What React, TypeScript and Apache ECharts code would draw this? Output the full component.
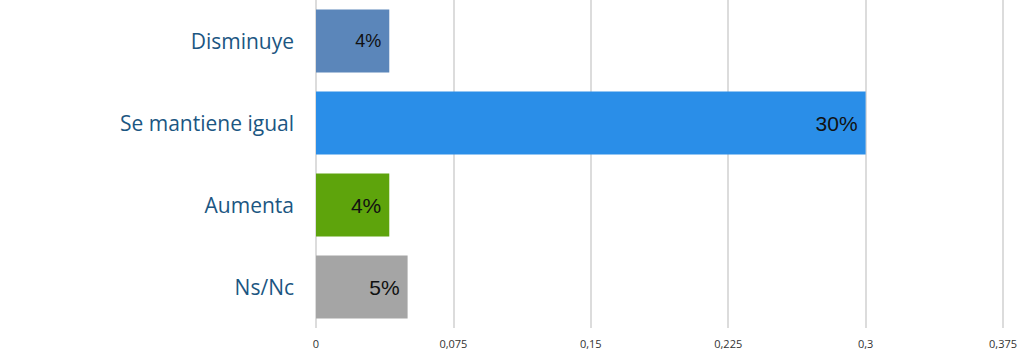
import React, { useEffect, useRef } from "react";
import * as echarts from "echarts";

const categories = ["Disminuye", "Se mantiene igual", "Aumenta", "Ns/Nc"];
const values = [0.04, 0.3, 0.04, 0.05];
const barColors = ["#5B86BA", "#2A8EE8", "#5EA40C", "#A5A5A5"];
const labelSizes = [18, 21, 21, 21];

export default function App() {
  const ref = useRef<HTMLDivElement>(null);
  useEffect(() => {
    const chart = echarts.init(ref.current!, null, { renderer: "svg" });
    chart.setOption({
      animation: false,
      grid: { left: 316, right: 21, top: 0, bottom: 24, containLabel: false },
      xAxis: {
        type: "value",
        min: 0,
        max: 0.375,
        interval: 0.075,
        axisLine: { show: false },
        axisTick: { show: false },
        splitLine: { show: true, lineStyle: { color: "#D0D0D0", width: 1.5 } },
        axisLabel: {
          margin: 10,
          color: "#333333",
          fontSize: 11,
          fontFamily: "Open Sans",
          formatter: (v: number) => String(Number(v.toFixed(4))).replace(".", ","),
        },
      },
      yAxis: {
        type: "category",
        data: categories,
        inverse: true,
        axisLine: { show: false },
        axisTick: { show: false },
        axisLabel: {
          margin: 22,
          color: "#1B5682",
          fontSize: 21,
          fontFamily: "Open Sans",
        },
      },
      series: [
        {
          type: "bar",
          barCategoryGap: "23%",
          data: values.map((v, i) => ({
            value: v,
            itemStyle: { color: barColors[i] },
            label: { fontSize: labelSizes[i] },
          })),
          label: {
            show: true,
            position: "insideRight",
            distance: 8,
            color: "#111111",
            fontFamily: "Liberation Sans",
            formatter: (p: any) => Math.round(p.value * 100) + "%",
          },
        },
      ],
    });
    return () => chart.dispose();
  }, []);
  return (
    <div
      ref={ref}
      style={{ position: "absolute", left: 0, top: 0, width: 1024, height: 352, background: "#fff" }}
    />
  );
}
